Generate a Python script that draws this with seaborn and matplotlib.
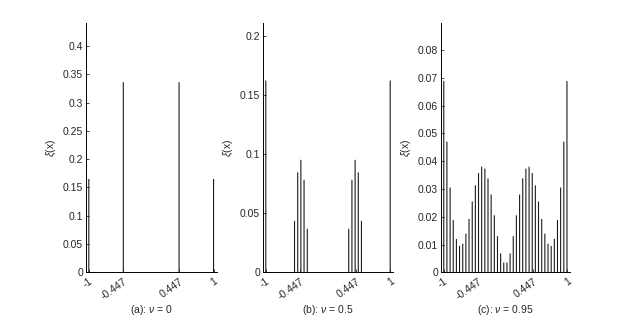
import numpy as np
import matplotlib
matplotlib.use("Agg")
import matplotlib.pyplot as plt
import pandas as pd
import seaborn as sns

# grid of support points (40 nodes on [-1, 1])
grid = [-1.000, -0.949, -0.897, -0.846, -0.795, -0.744, -0.692, -0.641, -0.590, -0.538,
        -0.487, -0.436, -0.385, -0.333, -0.282, -0.231, -0.179, -0.128, -0.077, -0.026,
        0.026, 0.077, 0.128, 0.179, 0.231, 0.282, 0.333, 0.385, 0.436, 0.487,
        0.538, 0.590, 0.641, 0.692, 0.744, 0.795, 0.846, 0.897, 0.949, 1.000]

# (a) nu = 0
xa = [-1.0, -0.447, 0.447, 1.0]
ya = [0.165, 0.336, 0.336, 0.165]

# (b) nu = 0.5
xb = [-1.000, -0.538, -0.487, -0.436, -0.385, -0.333,
      0.333, 0.385, 0.436, 0.487, 0.538, 1.000]
yb = [0.1625, 0.0436, 0.0846, 0.0953, 0.0784, 0.0368,
      0.0368, 0.0784, 0.0953, 0.0846, 0.0436, 0.1625]

# (c) nu = 0.95
yc = [0.0688, 0.0470, 0.0305, 0.0188, 0.0120, 0.0095, 0.0103, 0.0139, 0.0192, 0.0255,
      0.0313, 0.0357, 0.0380, 0.0373, 0.0338, 0.0280, 0.0205, 0.0130, 0.0068, 0.0035,
      0.0035, 0.0068, 0.0130, 0.0205, 0.0280, 0.0338, 0.0373, 0.0380, 0.0357, 0.0313,
      0.0255, 0.0192, 0.0139, 0.0103, 0.0095, 0.0120, 0.0188, 0.0305, 0.0470, 0.0688]

xticks = [-1, -0.447, 0.447, 1]
xticklabels = ['-1', '-0.447', '0.447', '1']
titles = [r'(a): $\nu$ = 0', r'(b): $\nu$ = 0.5', r'(c): $\nu$ = 0.95']
ylims = [0.44, 0.211, 0.0896]
yticks = [np.arange(0, 0.41, 0.05), [0, 0.05, 0.1, 0.15, 0.2], np.arange(0, 0.081, 0.01)]
yticklabels = [['0', '0.05', '0.1', '0.15', '0.2', '0.25', '0.3', '0.35', '0.4'],
               ['0', '0.05', '0.1', '0.15', '0.2'],
               ['0', '0.01', '0.02', '0.03', '0.04', '0.05', '0.06', '0.07', '0.08']]

sns.set_style("ticks")
plt.rcParams['font.family'] = ['Liberation Sans', 'DejaVu Sans']
plt.rcParams['mathtext.fontset'] = 'custom'
plt.rcParams['mathtext.it'] = 'Liberation Sans:italic'
plt.rcParams['mathtext.rm'] = 'Liberation Sans'

fig = plt.figure(figsize=(6.31, 3.16), dpi=100)
lefts = [0.1358, 0.4163, 0.6984]
widths = [0.2076, 0.2070, 0.2050]

data = [(xa, ya, 0.032), (xb, yb, 0.35), (grid, yc, 0.35)]

for i, (xs, ys, w) in enumerate(data):
    ax = fig.add_axes([lefts[i], 0.1383, widths[i], 0.788])
    df = pd.DataFrame({'x': xs, 'y': ys})
    sns.barplot(data=df, x='x', y='y', native_scale=True, width=w,
                color='#1a1a1a', saturation=1, linewidth=0, ax=ax)
    for p in ax.patches:
        p.set_snap(False)
    ax.set_xlim(-1.05, 1.05)
    ax.set_ylim(0, ylims[i])
    ax.set_xticks(xticks)
    ax.set_xticklabels(xticklabels, rotation=35, ha='right', va='top', rotation_mode='anchor')
    ax.set_yticks(yticks[i])
    ax.set_yticklabels(yticklabels[i])
    ax.tick_params(direction='in', length=2.5, width=0.6, labelsize=7.5, pad=2, colors='#262626')
    ax.tick_params(axis='x', pad=3)
    ax.set_xlabel(titles[i], fontsize=7.5, labelpad=1, color='#262626')
    ax.set_ylabel(r'$\xi$(x)', fontsize=7.5, labelpad=3, color='#262626')
    sns.despine(ax=ax)
    for s in ['left', 'bottom']:
        ax.spines[s].set_linewidth(0.7)
        ax.spines[s].set_color('black')

fig.savefig('out.png', dpi=100)
